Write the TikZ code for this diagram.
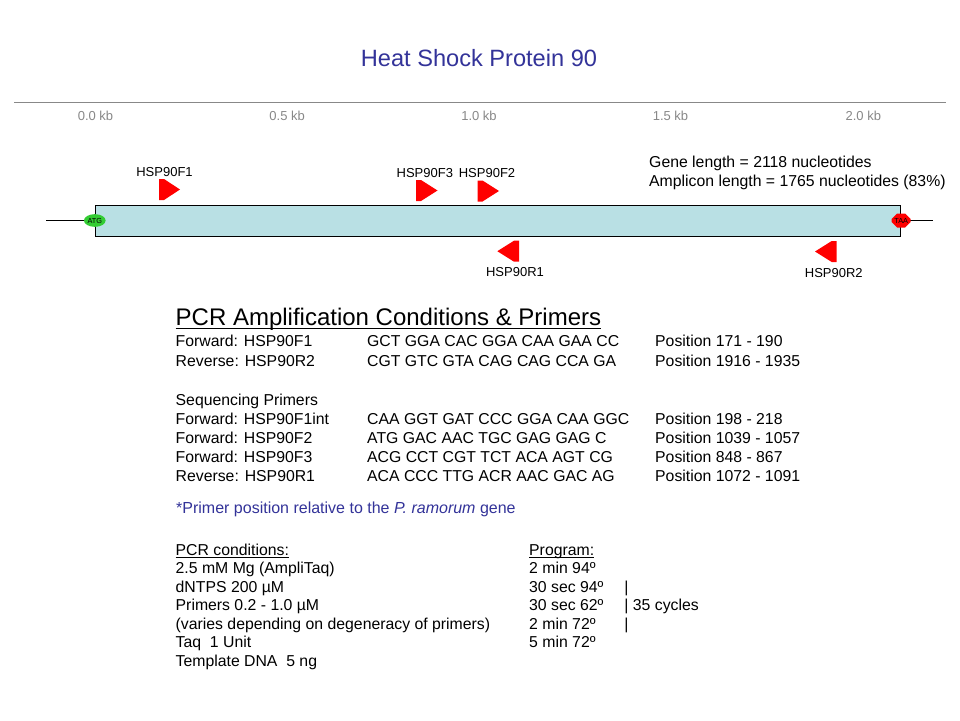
\documentclass[tikz,border=0pt]{standalone}
\usepackage{fontspec}
\setmainfont{Liberation Sans}
\usetikzlibrary{shapes.geometric,shapes.misc}

\definecolor{titleblue}{RGB}{51,51,153}
\definecolor{genefill}{RGB}{185,224,228}
\definecolor{atggreen}{RGB}{51,204,51}
\definecolor{rulegray}{RGB}{136,136,136}

\newcommand\titlefont{\fontsize{23.6}{27}\selectfont}
\newcommand\headfont{\fontsize{24}{28}\selectfont}
\newcommand\tabfont{\fontsize{15.8}{19}\selectfont}
\newcommand\lblfont{\fontsize{13}{15}\selectfont}
\newcommand\tinyfont{\fontsize{7.3}{8}\selectfont}

\begin{document}
\begin{tikzpicture}[x=1pt,y=-1pt,
  txt/.style={anchor=base west,inner sep=0pt,font=\tabfont},
  kb/.style={anchor=base,inner sep=0pt,text=rulegray,font=\lblfont},
  plbl/.style={anchor=base,inner sep=0pt,font=\lblfont},
  primer/.style={fill=red},
  genebox/.style={draw=black,fill=genefill,line width=1pt,minimum width=805.4pt,minimum height=31pt,inner sep=0pt},
  start/.style={ellipse,fill=atggreen,minimum width=21.7pt,minimum height=12.7pt,inner sep=0pt,font=\tinyfont},
  stop/.style={chamfered rectangle,chamfered rectangle xsep=3pt,chamfered rectangle ysep=3pt,fill=red,minimum width=19pt,minimum height=14pt,inner sep=0pt,font=\tinyfont}]

\useasboundingbox (0,0) rectangle (960,720);
\fill[white] (0,0) rectangle (960,720);

% Title
\node[anchor=base,inner sep=0pt,text=titleblue,font=\titlefont] (title) at (479,66.7) {Heat Shock Protein 90};

% Scale
\draw[rulegray,line width=1.2pt] (14,102.3) -- (946,102.3);
\node[kb] (kb00) at (95.5,120.7) {0.0 kb};
\node[kb] (kb05) at (287.2,120.7) {0.5 kb};
\node[kb] (kb10) at (479,120.7) {1.0 kb};
\node[kb] (kb15) at (670.5,120.7) {1.5 kb};
\node[kb] (kb20) at (863.3,120.7) {2.0 kb};

% Gene
\coordinate (utr5) at (46,220.5);
\coordinate (utr3) at (932.7,220.5);
\draw (utr5) -- (498,220.5) -- (utr3);
\node[genebox] (gene) at (498,220.5) {};
\node[start] (atg) at (gene.west) {ATG};
\node[stop] (taa) at (gene.east) {TAA};

% Forward primers
\fill[primer] (159,179) -- (164,179) -- (180,189.5) -- (164,200) -- (159,200) -- cycle;
\fill[primer] (416,180) -- (421,180) -- (437.5,190.5) -- (421,201) -- (416,201) -- cycle;
\fill[primer] (477.5,180.5) -- (482.5,180.5) -- (499,191) -- (482.5,201.5) -- (477.5,201.5) -- cycle;
\node[plbl] (f1lbl) at (164.5,176.3) {HSP90F1};
\node[plbl] (f3lbl) at (424.8,177.3) {HSP90F3};
\node[plbl] (f2lbl) at (487,177.7) {HSP90F2};

% Reverse primers
\fill[primer] (519,240.7) -- (514,240.7) -- (497.3,251.2) -- (514,261.7) -- (519,261.7) -- cycle;
\fill[primer] (836.7,241) -- (831.7,241) -- (815,251.5) -- (831.7,262) -- (836.7,262) -- cycle;
\node[plbl] (r1lbl) at (515,276.7) {HSP90R1};
\node[plbl] (r2lbl) at (833.8,277.3) {HSP90R2};

% Lengths
\node[txt] (genelen) at (649,167.3) {Gene length = 2118 nucleotides};
\node[txt] (amplen) at (649,186) {Amplicon length = 1765 nucleotides (83\%)};

% PCR primers
\node[txt,font=\headfont] (pcrhead) at (175.5,325) {PCR Amplification Conditions \& Primers};
\draw[line width=1.5pt] ([yshift=-3.5pt]pcrhead.base west) -- ([yshift=-3.5pt]pcrhead.base east);

\node[txt] (f1name) at (175.5,346.7) {Forward: HSP90F1};
\node[txt] (f1seq) at (367,346.7) {GCT GGA CAC GGA CAA GAA CC};
\node[txt] (f1pos) at (655,346.7) {Position 171 - 190};
\node[txt] (r2name) at (175.5,366) {Reverse: HSP90R2};
\node[txt] (r2seq) at (367,366) {CGT GTC GTA CAG CAG CCA GA};
\node[txt] (r2pos) at (655,366) {Position 1916 - 1935};

% Sequencing primers
\node[txt] (seqhead) at (175.5,405.5) {Sequencing Primers};
\node[txt] (f1iname) at (175.5,424.5) {Forward: HSP90F1int};
\node[txt] (f1iseq) at (367,424.5) {CAA GGT GAT CCC GGA CAA GGC};
\node[txt] (f1ipos) at (655,424.5) {Position 198 - 218};
\node[txt] (f2name) at (175.5,443.5) {Forward: HSP90F2};
\node[txt] (f2seq) at (367,443.5) {ATG GAC AAC TGC GAG GAG C};
\node[txt] (f2pos) at (655,443.5) {Position 1039 - 1057};
\node[txt] (f3name) at (175.5,462.5) {Forward: HSP90F3};
\node[txt] (f3seq) at (367,462.5) {ACG CCT CGT TCT ACA AGT CG};
\node[txt] (f3pos) at (655,462.5) {Position 848 - 867};
\node[txt] (r1name) at (175.5,481.5) {Reverse: HSP90R1};
\node[txt] (r1seq) at (367,481.5) {ACA CCC TTG ACR AAC GAC AG};
\node[txt] (r1pos) at (655,481.5) {Position 1072 - 1091};

\node[txt,text=titleblue,font=\fontsize{16}{19}\selectfont] (note) at (176,513.3) {*Primer position relative to the \textit{P. ramorum} gene};

% PCR conditions
\node[txt] (condhead) at (175.5,555) {PCR conditions:};
\draw ([yshift=-2pt]condhead.base west) -- ([yshift=-2pt]condhead.base east);
\node[txt] (mg) at (175.5,573.5) {2.5 mM Mg (AmpliTaq)};
\node[txt] (dntp) at (175.5,592) {dNTPS 200 µM};
\node[txt] (prim) at (175.5,610.5) {Primers 0.2 - 1.0 µM};
\node[txt] (varies) at (175.5,629) {(varies depending on degeneracy of primers)};
\node[txt] (taq) at (175.5,647.5) {Taq\ \ 1 Unit};
\node[txt] (dna) at (175.5,666) {Template DNA\ \ 5 ng};

% Program
\node[txt] (proghead) at (529,555) {Program:};
\draw ([yshift=-2pt]proghead.base west) -- ([yshift=-2pt]proghead.base east);
\node[txt] (step1) at (529,573.5) {2 min 94º};
\node[txt] (step2) at (529,592) {30 sec 94º};
\node[txt] (step3) at (529,610.5) {30 sec 62º};
\node[txt] (step4) at (529,629) {2 min 72º};
\node[txt] (step5) at (529,647.5) {5 min 72º};
\node[txt] (bar2) at (624.2,592) {|};
\node[txt] (bar3) at (624.2,610.5) {| 35 cycles};
\node[txt] (bar4) at (624.2,629) {|};

\end{tikzpicture}
\end{document}
